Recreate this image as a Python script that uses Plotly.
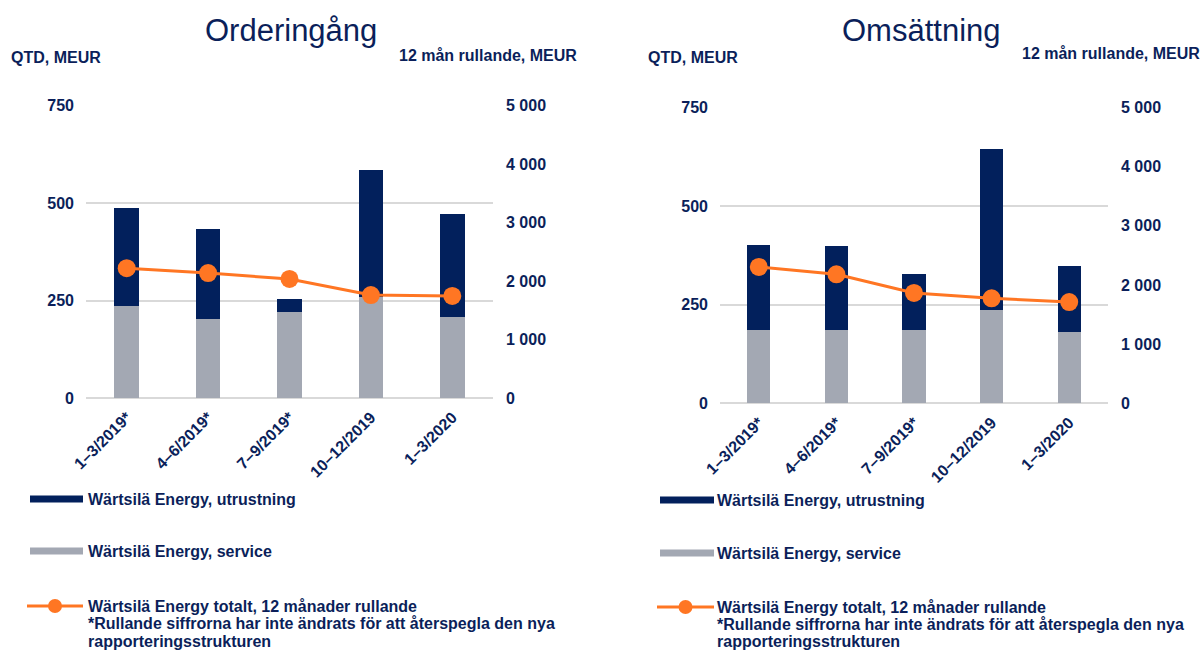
import plotly.graph_objects as go

# ---------------- data ----------------
categories = ["1–3/2019*", "4–6/2019*", "7–9/2019*", "10–12/2019", "1–3/2020"]

oi_service = [237, 202, 220, 259, 208]
oi_equipment = [251, 231, 35, 325, 264]
oi_rolling = [2220, 2135, 2035, 1760, 1745]

sales_service = [187, 187, 187, 237, 181]
sales_equipment = [214, 212, 140, 409, 167]
sales_rolling = [2305, 2180, 1865, 1775, 1712]

left_ticks = [0, 250, 500, 750]
right_ticks = [0, 1000, 2000, 3000, 4000, 5000]

names = ["Wärtsilä Energy, utrustning", "Wärtsilä Energy, service",
         "Wärtsilä Energy totalt, 12 månader rullande"]
footnote = ["*Rullande siffrorna har inte ändrats för att återspegla den nya",
            "rapporteringsstrukturen"]

# ---------------- style ----------------
W, H = 1204, 650
NAVY = "#02205c"
TXT = "#0b1f5a"
GRAY = "#a3a8b3"
ORANGE = "#ff7623"
GRID = "#d9d9d9"
FONT = "Liberation Sans"
FS = 16


def px(x):
    return x / W


def py(y):
    return 1 - y / H


fig = go.Figure()

panels = [
    dict(xa="x", ya="y", ya2="y2", svc=oi_service, eq=oi_equipment, roll=oi_rolling),
    dict(xa="x2", ya="y3", ya2="y4", svc=sales_service, eq=sales_equipment, roll=sales_rolling),
]
for p in panels:
    fig.add_trace(go.Bar(x=categories, y=p["svc"], name=names[1], marker_color=GRAY,
                         width=0.3, xaxis=p["xa"], yaxis=p["ya"], showlegend=False,
                         marker_line_width=0))
    fig.add_trace(go.Bar(x=categories, y=p["eq"], name=names[0], marker_color=NAVY,
                         width=0.3, xaxis=p["xa"], yaxis=p["ya"], showlegend=False,
                         marker_line_width=0))
    fig.add_trace(go.Scatter(x=categories, y=p["roll"], name=names[2], mode="lines+markers",
                             line=dict(color=ORANGE, width=3),
                             marker=dict(color=ORANGE, size=18),
                             xaxis=p["xa"], yaxis=p["ya2"], showlegend=False))

tickfont = dict(family=FONT, size=FS, color=TXT, weight="bold")

xcommon = dict(type="category", tickangle=-45, tickfont=tickfont, showline=False,
               ticks="", showgrid=False, zeroline=False, ticklabelstandoff=6,
               automargin=False)
ycommon = dict(range=[0, 750], tickvals=left_ticks, tickfont=tickfont, showgrid=True,
               gridcolor=GRID, gridwidth=2, zeroline=True, zerolinecolor=GRID,
               zerolinewidth=2, ticks="", showline=False, ticklabelstandoff=11,
               automargin=False)
y2common = dict(range=[0, 5000], tickvals=right_ticks, tickformat=",d", tickfont=tickfont,
                showgrid=False, zeroline=False, side="right", ticks="", showline=False,
                ticklabelstandoff=12, automargin=False)

L_dom_y = [py(398), py(105.5)]
R_dom_y = [py(403.3), py(107.5)]

fig.update_layout(
    width=W, height=H, margin=dict(l=0, r=0, t=0, b=0, pad=0, autoexpand=False),
    paper_bgcolor="white", plot_bgcolor="white",
    barmode="stack", separators=", ",
    xaxis=dict(domain=[px(86), px(493)], anchor="y", **xcommon),
    yaxis=dict(domain=L_dom_y, anchor="x", **ycommon),
    yaxis2=dict(overlaying="y", anchor="x", **y2common),
    xaxis2=dict(domain=[px(720), px(1108)], anchor="y3", **xcommon),
    yaxis3=dict(domain=R_dom_y, anchor="x2", **ycommon),
    yaxis4=dict(overlaying="y3", anchor="x2", **y2common),
    showlegend=False,
)


def ann(text, x, y, xanchor="left", size=FS, bold=True):
    fig.add_annotation(text=text, x=px(x), y=py(y), xref="paper", yref="paper",
                       xanchor=xanchor, yanchor="middle", showarrow=False,
                       font=dict(family=FONT, size=size, color=TXT,
                                 weight="bold" if bold else "normal"))


# titles and axis captions
ann("Orderingång", 291, 30, "center", size=31, bold=False)
ann("Omsättning", 921, 30, "center", size=31, bold=False)
ann("QTD, MEUR", 9, 58)
ann("QTD, MEUR", 646, 58)
ann("12 mån rullande, MEUR", 579, 55, "right")
ann("12 mån rullande, MEUR", 1202, 53, "right")

# legends (drawn manually)
for (x0, x1, tx, ys) in [(30, 83, 86, [499, 551, 606, 623, 641]),
                         (660, 714, 715, [500, 553, 607, 624, 641])]:
    fig.add_shape(type="line", xref="paper", yref="paper", x0=px(x0), x1=px(x1),
                  y0=py(ys[0]), y1=py(ys[0]), line=dict(color=NAVY, width=7))
    fig.add_shape(type="line", xref="paper", yref="paper", x0=px(x0), x1=px(x1),
                  y0=py(ys[1]), y1=py(ys[1]), line=dict(color=GRAY, width=7))
    fig.add_shape(type="line", xref="paper", yref="paper", x0=px(x0 - 3), x1=px(x1),
                  y0=py(ys[2]), y1=py(ys[2]), line=dict(color=ORANGE, width=3))
    cx = (x0 - 3 + x1) / 2
    fig.add_shape(type="circle", xref="paper", yref="paper", x0=px(cx - 7), x1=px(cx + 7),
                  y0=py(ys[2] + 7), y1=py(ys[2] - 7), fillcolor=ORANGE,
                  line=dict(color=ORANGE, width=0))
    ann(names[0], tx, ys[0])
    ann(names[1], tx, ys[1])
    ann(names[2], tx, ys[2])
    ann(footnote[0], tx, ys[3])
    ann(footnote[1], tx, ys[4])

fig.write_html(
    "out.html",
    config={"displayModeBar": False},
    post_script="document.body.style.margin='0';document.body.style.overflow='hidden';",
)
